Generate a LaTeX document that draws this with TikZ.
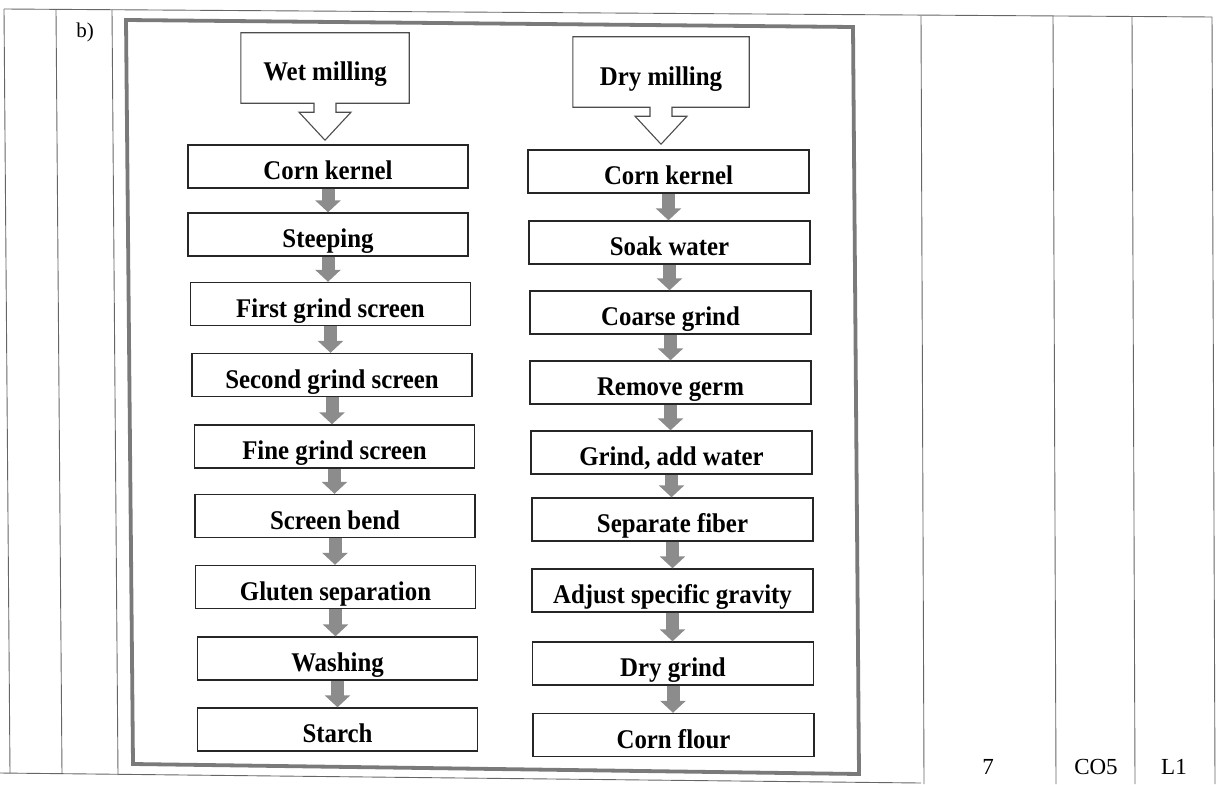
\documentclass[tikz,border=0pt]{standalone}
\usepackage{fontspec}
\setmainfont{Liberation Serif}
\newfontfamily\boxfont[FakeStretch=0.92]{Liberation Serif}
\usetikzlibrary{arrows.meta,calc}

\begin{document}
\begin{tikzpicture}[x=1pt,y=-1pt,
  rule/.style={draw=black!60, line width=0.9pt},
  frameline/.style={draw=black!52, line width=3.8pt, line join=miter},
  stepbox/.style={draw=black!85, line width=1.4pt, minimum width=280pt,
    minimum height=43pt, inner sep=0pt, text height=26pt, text depth=0pt,
    font=\boxfont\fontsize{27}{32}\selectfont\bfseries},
  headbox/.style={minimum height=70pt, inner sep=0pt, text height=26pt,
    text depth=0pt, font=\boxfont\fontsize{27}{32}\selectfont\bfseries},
  headline/.style={draw=black!70, line width=1.1pt, line join=miter},
  flow/.style={draw=black!45, line width=13pt,
    -{Triangle[width=25pt,length=12pt]}},
  celltext/.style={inner sep=0pt, font=\fontsize{23}{27}\selectfont}
]
\useasboundingbox (0,0) rectangle (1222,784);

% table rules
\draw[rule] (4,9) -- (1212,17);
\draw[rule] (0,773) -- (921,783);
\draw[rule] (4,9) -- (10,773);
\draw[rule] (56,10) -- (62,774);
\draw[rule] (112,10) -- (118,775);
\draw[rule] (921,16) -- (924,784);
\draw[rule] (1053,16) -- (1056,784);
\draw[rule] (1132,17) -- (1135,784);
\draw[rule] (1212,17) -- (1215,784);

% cell texts
\node[celltext, font=\fontsize{21}{25}\selectfont] (qb) at (85,32) {b)};
\node[celltext] (marks) at (988,767) {7};
\node[celltext] (co) at (1096,767) {CO5};
\node[celltext] (lvl) at (1174,767) {L1};

% figure frame
\draw[frameline] (126,20) -- (853,27) -- (859,774) -- (133,764) -- cycle;

% wet milling column
\node[headbox, minimum width=168pt] (wet) at (325,68) {Wet milling};
\node[stepbox] (wk1) at (328,166.5) {Corn kernel};
\node[stepbox] (wk2) at (328,234.5) {Steeping};
\node[stepbox] (wk3) at (330.5,304) {First grind screen};
\node[stepbox] (wk4) at (332,375) {Second grind screen};
\node[stepbox] (wk5) at (334.5,446.5) {Fine grind screen};
\node[stepbox] (wk6) at (335,516) {Screen bend};
\node[stepbox] (wk7) at (335.5,587) {Gluten separation};
\node[stepbox] (wk8) at (337.5,658.5) {Washing};
\node[stepbox] (wk9) at (337.5,729.5) {Starch};

% dry milling column
\node[headbox, minimum width=176pt] (dry) at (661,72) {Dry milling};
\node[stepbox, minimum width=281pt] (dk1) at (668.5,171.5) {Corn kernel};
\node[stepbox, minimum width=281pt] (dk2) at (669.5,242.5) {Soak water};
\node[stepbox, minimum width=281pt] (dk3) at (670.5,312.5) {Coarse grind};
\node[stepbox, minimum width=281pt] (dk4) at (670.5,382.5) {Remove germ};
\node[stepbox, minimum width=281pt] (dk5) at (671.5,452.5) {Grind, add water};
\node[stepbox, minimum width=281pt] (dk6) at (672.5,519.5) {Separate fiber};
\node[stepbox, minimum width=281pt] (dk7) at (672.5,590.5) {Adjust specific gravity};
\node[stepbox, minimum width=281pt] (dk8) at (673,663.5) {Dry grind};
\node[stepbox, minimum width=281pt] (dk9) at (673.5,735) {Corn flour};

% header boxes with hollow arrows
\foreach \h in {wet,dry}{
  \draw[headline] ($(\h.south)+(-11,0)$) -- (\h.south west) -- (\h.north west)
    -- (\h.north east) -- (\h.south east) -- ($(\h.south)+(11,0)$)
    -- ++(0,9) -- ++(15,0) -- ($(\h.south)+(0,37)$)
    -- ($(\h.south)+(-26,9)$) -- ++(15,0) -- cycle;
}

% process arrows
\foreach \a/\b in {wk1/wk2,wk2/wk3,wk3/wk4,wk4/wk5,wk5/wk6,wk6/wk7,wk7/wk8,wk8/wk9,
                   dk1/dk2,dk2/dk3,dk3/dk4,dk4/dk5,dk5/dk6,dk6/dk7,dk7/dk8,dk8/dk9}{
  \draw[flow] (\a.south) -- (\a.south |- \b.north);
}
\end{tikzpicture}
\end{document}
